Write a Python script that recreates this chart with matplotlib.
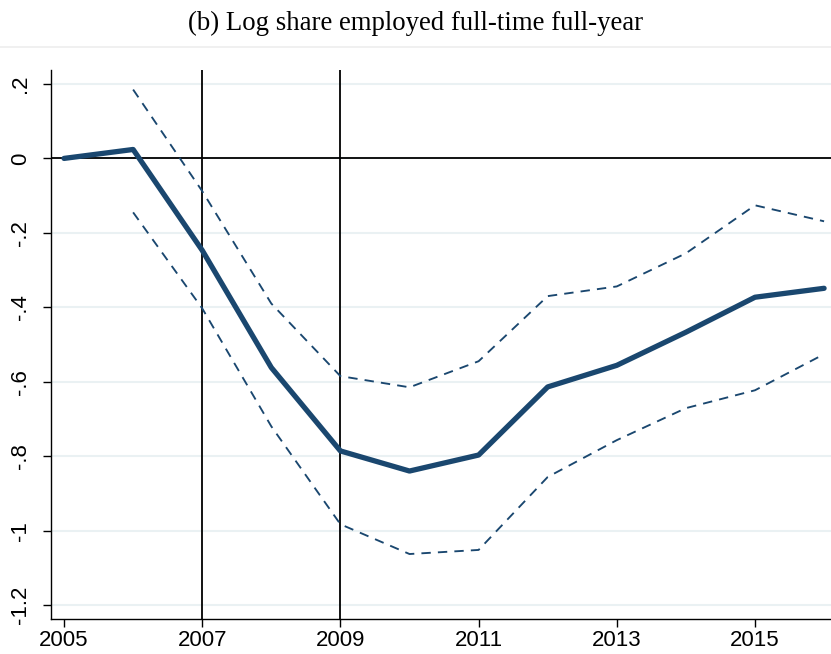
import matplotlib
matplotlib.use("Agg")
import matplotlib.pyplot as plt
from matplotlib.lines import Line2D

# values
years = [2005, 2006, 2007, 2008, 2009, 2010, 2011, 2012, 2013, 2014, 2015, 2016]
estimate = [0.0, 0.024, -0.247, -0.562, -0.786, -0.840, -0.797, -0.614, -0.556, -0.467, -0.373, -0.349]
upper_ci = [None, 0.185, -0.088, -0.39, -0.585, -0.615, -0.545, -0.370, -0.344, -0.255, -0.126, -0.169]
lower_ci = [None, -0.145, -0.403, -0.72, -0.983, -1.063, -1.052, -0.856, -0.757, -0.671, -0.623, -0.526]

x_ticks = [2005, 2007, 2009, 2011, 2013, 2015]
y_ticks = [0.2, 0.0, -0.2, -0.4, -0.6, -0.8, -1.0, -1.2]
y_tick_labels = [".2", "0", "-.2", "-.4", "-.6", "-.8", "-1", "-1.2"]
event_years = [2007, 2009]

title = "(b) Log share employed full-time full-year"

navy = "#1a476f"
grid_col = "#eaf1f3"

fig = plt.figure(figsize=(8.31, 6.54), dpi=100)
ax = fig.add_axes([0.061, 0.0535, 0.939, 0.8395])

ci_years = [y for y, v in zip(years, upper_ci) if v is not None]
ax.plot(ci_years, [v for v in upper_ci if v is not None], color=navy, lw=1.35,
        dashes=(5, 3.8), zorder=3)
ax.plot(ci_years, [v for v in lower_ci if v is not None], color=navy, lw=1.35,
        dashes=(5, 3.8), zorder=3)
ax.plot(years, estimate, color=navy, lw=3.8, solid_capstyle="round", zorder=4)

for yr in event_years:
    ax.axvline(yr, color="black", lw=1.3, zorder=2)
ax.axhline(0, color="black", lw=1.3, zorder=2)

ax.set_xlim(2004.807, 2016.10)
ax.set_ylim(-1.2376, 0.2376)
ax.set_xticks(x_ticks)
ax.set_xticklabels([str(t) for t in x_ticks], fontsize=16, family="Liberation Sans")
ax.set_yticks(y_ticks)
ax.set_yticklabels(y_tick_labels, fontsize=16, family="Liberation Sans",
                   rotation=90, va="center")
ax.yaxis.grid(True, color=grid_col, lw=1.5, zorder=0)
ax.set_axisbelow(True)

for side in ["top", "right"]:
    ax.spines[side].set_visible(False)
for side in ["left", "bottom"]:
    ax.spines[side].set_linewidth(1.0)
ax.tick_params(axis="x", length=6, width=1, pad=2)
ax.tick_params(axis="y", length=6, width=1, pad=8)

fig.text(0.5, 0.964, title, ha="center", va="center", fontsize=19.3,
         family="Liberation Serif")
fig.add_artist(Line2D([0, 1], [1 - 47 / 654, 1 - 47 / 654], color="#eeeeee",
                      lw=1.2, transform=fig.transFigure))

fig.savefig("out.png", dpi=100)
